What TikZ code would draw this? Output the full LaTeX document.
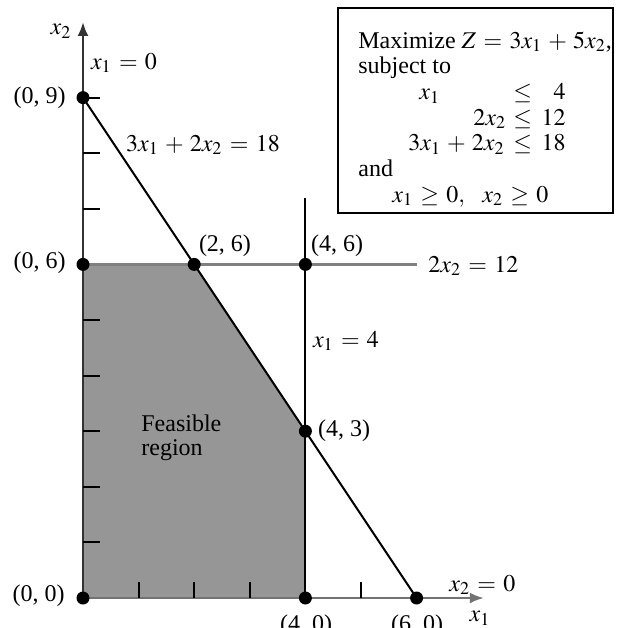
\documentclass[tikz,border=0pt]{standalone}
\IfFileExists{mathptmx.sty}{\usepackage{mathptmx}}{}
\usepackage{fontspec}
\setmainfont{Liberation Serif}
\usetikzlibrary{arrows.meta}
\medmuskip=4.6mu plus 2mu minus 2mu
\thickmuskip=5.5mu plus 3mu
\begin{document}
\begin{tikzpicture}[x=0.5pt,y=-0.5pt,
  lbl/.style={inner sep=0pt, font=\fontsize{12}{13}\selectfont},
  dot/.style={circle, fill=black, inner sep=0pt, minimum size=6.5pt},
  bline/.style={line width=1pt, black},
  gline/.style={line width=1.3pt, black!50},
  axisline/.style={line width=1.2pt, -{Latex[length=7pt,width=5.5pt]}},
  tickmark/.style={line width=1pt, black},
  region/.style={fill=black!41},
  lpbox/.style={draw, line width=1.3pt, inner sep=0pt, minimum width=137.5pt, minimum height=102.5pt},
]
\useasboundingbox (0,0) rectangle (618,628);
\begin{scope}[shift={(83,598)}, x=27.8pt, y=27.8pt]
  % key points
  \coordinate (O) at (0,0);
  \coordinate (A) at (0,6);
  \coordinate (B) at (0,9);
  \coordinate (C) at (2,6);
  \coordinate (D) at (4,6);
  \coordinate (E) at (4,3);
  \coordinate (F) at (4,0);
  \coordinate (G) at (6,0);
  \coordinate (H) at (6,6);
  \coordinate (T) at (4,7.2);
  \coordinate (XE) at (7.21,0);
  \coordinate (YE) at (0,10.36);
  % feasible region
  \fill[region] (O) -- (A) -- (C) -- (E) -- (F) -- cycle;
  % constraint lines
  \draw[gline] (A) -- (H);
  \draw[axisline, black!55] (O) -- (XE);
  \draw[axisline, black!80] (O) -- (YE);
  \draw[bline] (F) -- (T);
  \draw[bline] (B) -- (G);
  % ticks
  \foreach \k in {1,2,3,4,5,7,8,9}
    \draw[tickmark] (0,\k) -- (0.31,\k);
  \foreach \k in {1,2,3,5}
    \draw[tickmark] (\k,0) -- (\k,0.29);
  % dots
  \node[dot] (pO) at (O) {};
  \node[dot] (pA) at (A) {};
  \node[dot] (pB) at (B) {};
  \node[dot] (pC) at (C) {};
  \node[dot] (pD) at (D) {};
  \node[dot] (pE) at (E) {};
  \node[dot] (pF) at (F) {};
  \node[dot] (pG) at (G) {};
\end{scope}
% labels
\node[lbl] (lx2) at (61,31) {$x_2$};
\node[lbl] (lx10) at (124,63) {$x_1 = 0$};
\node[lbl, anchor=east] (l09) at (66,98) {(0, 9)};
\node[lbl] (lc3) at (203,145) {$3x_1 + 2x_2 = 18$};
\node[lbl] (l26) at (225,246) {(2, 6)};
\node[lbl, anchor=east] (l06) at (66,263) {(0, 6)};
\node[lbl] (l46) at (337,246) {(4, 6)};
\node[lbl, anchor=west] (lc2) at (428,266) {$2x_2 = 12$};
\node[lbl] (lc1) at (346,341) {$x_1 = 4$};
\node[lbl] (l43) at (344,431) {(4, 3)};
\node[lbl, anchor=west, align=left, font=\fontsize{12}{12}\selectfont] (lfr) at (141,438) {Feasible\\region};
\node[lbl, anchor=east] (l00) at (65,596) {(0, 0)};
\node[lbl, anchor=north] (l40) at (306,614) {(4, 0)};
\node[lbl, anchor=north] (l60) at (417,614) {(6, 0)};
\node[lbl, anchor=west] (lx20) at (449,585) {$x_2 = 0$};
\node[lbl] (lx1) at (480,618) {$x_1$};
% LP box
\node[lpbox] (box) at (475.5,110.5) {};
\node[lbl, anchor=base west] (b1) at (358,48) {Maximize $Z = 3x_1 + 5x_2$,};
\node[lbl, anchor=base west] (b2) at (358,73.7) {subject to};
\node[lbl, anchor=base west] (b3a) at (419,99.3) {$x_1$};
\node[lbl, anchor=base west] (b3b) at (513,99.3) {$\le$};
\node[lbl, anchor=base east] (b3c) at (566,99.3) {$4$};
\node[lbl, anchor=base west] (b4a) at (473,125) {$2x_2$};
\node[lbl, anchor=base west] (b4b) at (513,125) {$\le$};
\node[lbl, anchor=base east] (b4c) at (566,125) {$12$};
\node[lbl, anchor=base west] (b5a) at (408,150.7) {$3x_1 + 2x_2$};
\node[lbl, anchor=base west] (b5b) at (513,150.7) {$\le$};
\node[lbl, anchor=base east] (b5c) at (566,150.7) {$18$};
\node[lbl, anchor=base west] (b6) at (358,176.3) {and};
\node[lbl, anchor=base west] (b7a) at (392,202) {$x_1 \ge 0,$};
\node[lbl, anchor=base west] (b7b) at (482,202) {$x_2 \ge 0$};
\end{tikzpicture}
\end{document}
